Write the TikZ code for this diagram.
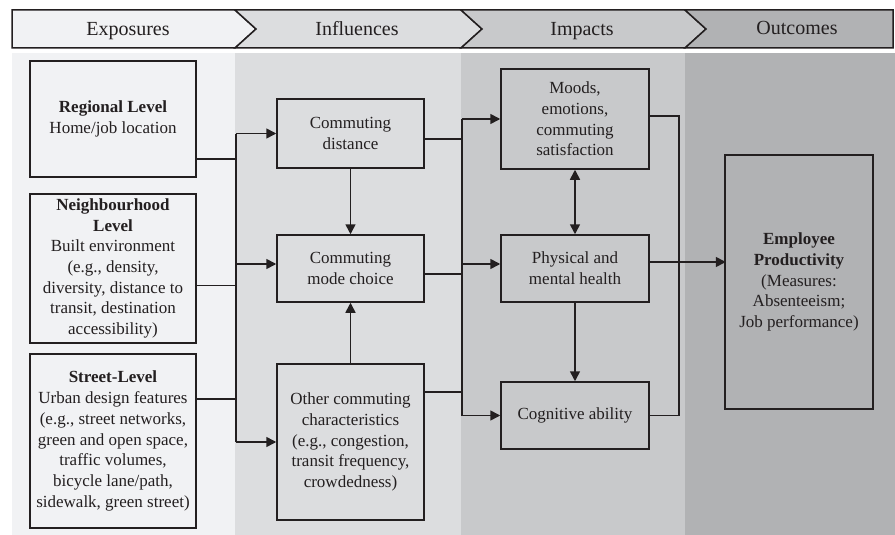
\documentclass[tikz,border=0pt]{standalone}
\usepackage{fontspec}
\setmainfont{Liberation Serif}
\usetikzlibrary{arrows.meta,calc}
\definecolor{ink}{HTML}{231F20}
\definecolor{colA}{HTML}{F1F2F4}
\definecolor{colB}{HTML}{DCDDDF}
\definecolor{colC}{HTML}{C8C9CB}
\definecolor{colD}{HTML}{B1B2B4}
\tikzset{
  box/.style={draw=ink, line width=1.5pt, align=center, text=ink, inner sep=0pt,
    font=\fontsize{17}{20.7}\selectfont},
  conn/.style={draw=ink, line width=1.6pt},
  arr/.style={conn, -{Triangle[length=10pt,width=10pt]}},
  darr/.style={conn, {Triangle[length=10pt,width=10pt]}-{Triangle[length=10pt,width=10pt]}},
  head/.style={draw=ink, line width=1.5pt, line join=miter},
  headtext/.style={text=ink, anchor=base, inner sep=0pt, font=\fontsize{20}{24}\selectfont}
}
\begin{document}
\begin{tikzpicture}[x=1pt,y=-1pt]
\useasboundingbox (0,0) rectangle (895,535);
% background columns
\fill[colA] (12,53) rectangle (235,535);
\fill[colB] (235,53) rectangle (461,535);
\fill[colC] (461,53) rectangle (685,535);
\fill[colD] (685,53) rectangle (895,535);
% header chevrons
\filldraw[head, fill=colA] (12,10) -- (235,10) -- (256,29) -- (235,48) -- (12,48) -- cycle;
\filldraw[head, fill=colB] (235,10) -- (461,10) -- (482,29) -- (461,48) -- (235,48) -- (256,29) -- cycle;
\filldraw[head, fill=colC] (461,10) -- (685,10) -- (706,29) -- (685,48) -- (461,48) -- (482,29) -- cycle;
\filldraw[head, fill=colD] (685,10) -- (893,10) -- (893,48) -- (685,48) -- (706,29) -- cycle;
\node[headtext] (h1) at (128,36) {Exposures};
\node[headtext] (h2) at (357,36) {Influences};
\node[headtext] (h3) at (582,36) {Impacts};
\node[headtext] (h4) at (797,35) {Outcomes};
% exposure boxes
\node[box, minimum width=166pt, minimum height=116pt] (reg) at (113,119)
  {\textbf{Regional Level}\\Home/job location};
\node[box, minimum width=166pt, minimum height=149pt] (neigh) at (113,268.5)
  {\textbf{Neighbourhood}\\\textbf{Level}\\Built environment\\(e.g., density,\\diversity, distance to\\transit, destination\\accessibility)};
\node[box, minimum width=166pt, minimum height=174pt] (street) at (113,441)
  {\textbf{Street-Level}\\Urban design features\\(e.g., street networks,\\green and open space,\\traffic volumes,\\bicycle lane/path,\\sidewalk, green street)};
% influence boxes
\node[box, minimum width=147pt, minimum height=69pt] (dist) at (350.5,133.5)
  {Commuting\\distance};
\node[box, minimum width=147pt, minimum height=67pt] (mode) at (350.5,268.5)
  {Commuting\\mode choice};
\node[box, minimum width=147pt, minimum height=156pt] (other) at (350.5,442)
  {Other commuting\\characteristics\\(e.g., congestion,\\transit frequency,\\crowdedness)};
% impact boxes
\node[box, minimum width=148pt, minimum height=100pt] (moods) at (575,119)
  {Moods,\\emotions,\\commuting\\satisfaction};
\node[box, minimum width=148pt, minimum height=67pt] (phys) at (575,268.5)
  {Physical and\\mental health};
\node[box, minimum width=148pt, minimum height=67pt] (cog) at (575,415.5)
  {Cognitive ability};
% outcome box
\node[box, minimum width=148pt, minimum height=254pt] (emp) at (799,282)
  {\textbf{Employee}\\\textbf{Productivity}\\(Measures:\\Absenteeism;\\Job performance)};
% left bus
\coordinate (lbt) at (236,133.5);
\coordinate (lbb) at (236,442);
\draw[conn] (lbt) -- (lbb);
\draw[conn] ([yshift=19pt]reg.south east) -- ++(40,0);
\draw[conn] ([yshift=-17pt]neigh.east) -- ++(40,0);
\draw[conn] ([yshift=42pt]street.east) -- ++(40,0);
\draw[arr] (lbt) -- (dist.west);
\draw[arr] ([yshift=4.5pt]mode.west) ++(-41,0) -- ([yshift=4.5pt]mode.west);
\draw[arr] (lbb) -- (other.west);
% middle bus
\coordinate (mbt) at (462,119);
\coordinate (mbb) at (462,415.5);
\draw[conn] (mbt) -- (mbb);
\draw[conn] ([yshift=-5.5pt]dist.east) -- ++(38,0);
\draw[conn] ([yshift=-5.5pt]mode.east) -- ++(38,0);
\draw[conn] ([yshift=50pt]other.east) -- ++(38,0);
\draw[arr] (mbt) -- (moods.west);
\draw[arr] ([yshift=4.5pt]phys.west) ++(-39,0) -- ([yshift=4.5pt]phys.west);
\draw[arr] (mbb) -- (cog.west);
% vertical arrows
\draw[arr] (dist.south) -- (mode.north);
\draw[arr] (other.north) -- (mode.south);
\draw[darr] (moods.south) -- (phys.north);
\draw[arr] (phys.south) -- (cog.north);
% right bus
\coordinate (rbt) at (679,116);
\coordinate (rbb) at (679,415.5);
\draw[conn] ([yshift=3pt]moods.east) -- (rbt) -- (rbb) -- (cog.east);
\draw[arr] ([yshift=6.5pt]phys.east) -- ++(76,0);
\end{tikzpicture}
\end{document}
